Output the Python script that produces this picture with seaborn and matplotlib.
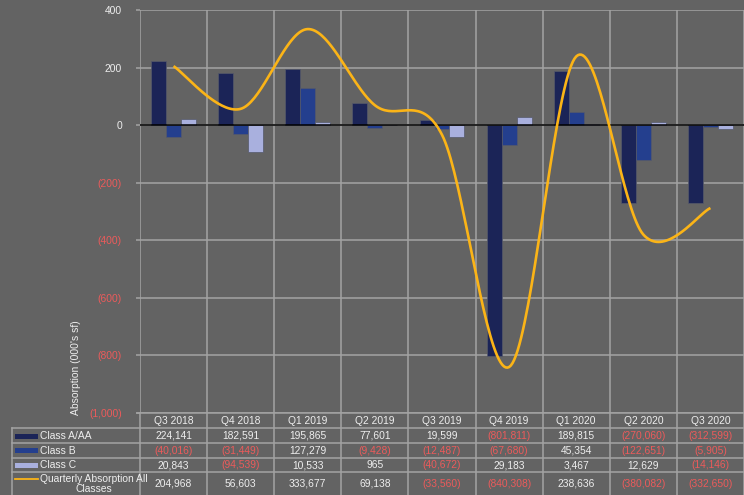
import numpy as np
import pandas as pd
import matplotlib
matplotlib.use("Agg")
import matplotlib.pyplot as plt
import seaborn as sns
from matplotlib.lines import Line2D
from matplotlib.patches import Rectangle

# ---------------- data ----------------
quarters = ["Q3 2018", "Q4 2018", "Q1 2019", "Q2 2019", "Q3 2019",
            "Q4 2019", "Q1 2020", "Q2 2020", "Q3 2020"]
series_names = ["Class A/AA", "Class B", "Class C"]
line_name = "Quarterly Absorption All\nClasses"

# table values (sf)
table_a = [224141, 182591, 195865, 77601, 19599, -801811, 189815, -270060, -312599]
table_b = [-40016, -31449, 127279, -9428, -12487, -67680, 45354, -122651, -5905]
table_c = [20843, -94539, 10533, 965, -40672, 29183, 3467, 12629, -14146]
table_total = [204968, 56603, 333677, 69138, -33560, -840308, 238636, -380082, -332650]

# plotted values (000's sf), as drawn in the chart
plot_a = [224.1, 182.6, 195.9, 77.6, 19.6, -801.8, 189.8, -270.1, -270.0]
plot_b = [-40.0, -31.4, 127.3, -9.4, -12.5, -67.7, 45.4, -122.7, -5.9]
plot_c = [20.8, -94.5, 10.5, 1.0, -40.7, 29.2, 3.5, 12.6, -14.1]
plot_total = [205.0, 56.6, 333.7, 69.1, -33.6, -840.3, 238.6, -380.1, -288.0]

y_ticks = [-1000, -800, -600, -400, -200, 0, 200, 400]

# ---------------- style ----------------
bg = "#636363"
grid_c = "#a3a3a3"
text_c = "#eeeeee"
neg_c = "#ec5b5b"
colors = ["#1b2457", "#243f8e", "#a9b0de"]
line_c = "#fbb417"
fs = 7.4

plt.rcParams["font.family"] = ["Liberation Sans", "DejaVu Sans"]

W, H = 744, 495
fig = plt.figure(figsize=(W / 100, H / 100), dpi=100, facecolor=bg)


def fx(x):
    return x / W


def fy(y):
    return 1 - y / H


ax_l, ax_r, ax_t, ax_b = 140, 744, 10, 413
ax = fig.add_axes([fx(ax_l), fy(ax_b), (ax_r - ax_l) / W, (ax_b - ax_t) / H])
ax.set_facecolor(bg)

df = pd.DataFrame({
    "quarter": quarters * 3,
    "cls": sum([[n] * len(quarters) for n in series_names], []),
    "value": plot_a + plot_b + plot_c,
})
sns.barplot(data=df, x="quarter", y="value", hue="cls", hue_order=series_names,
            order=quarters, palette=colors, width=0.67, saturation=1,
            edgecolor="#55596a", linewidth=0.5, legend=False, ax=ax, zorder=2)

# smoothed total line (Catmull-Rom style Bezier, like spreadsheet smoothing)
px = np.arange(len(quarters), dtype=float)
py = np.array(plot_total, dtype=float)
P = np.column_stack([px, py])
Pext = np.vstack([P[0], P, P[-1]])
curve = []
t = np.linspace(0, 1, 40)[:, None]
for i in range(len(P) - 1):
    p0, p1, p2, p3 = Pext[i], Pext[i + 1], Pext[i + 2], Pext[i + 3]
    b0 = p1
    b1 = p1 + (p2 - p0) / 6
    b2 = p2 - (p3 - p1) / 6
    b3 = p2
    seg = ((1 - t) ** 3) * b0 + 3 * ((1 - t) ** 2) * t * b1 + 3 * (1 - t) * t ** 2 * b2 + t ** 3 * b3
    curve.append(seg if i == 0 else seg[1:])
curve = np.vstack(curve)
ax.plot(curve[:, 0], curve[:, 1], color=line_c, lw=1.9, zorder=4, solid_capstyle="butt")

ax.axhline(0, color="black", lw=1.1, zorder=3)

ax.set_xlim(-0.5, len(quarters) - 0.5)
ax.set_ylim(-1000, 400)
ax.set_xticks([])
ax.set_xticks(np.arange(-0.5, len(quarters), 1.0), minor=True)
ax.tick_params(axis="x", which="both", length=0, labelbottom=False)
ax.grid(axis="x", which="minor", color=grid_c, lw=1.1, zorder=0)


def fmt(v):
    if v < 0:
        return f"({-v:,})"
    return f"{v:,}"


ax.set_yticks(y_ticks)
ax.set_yticklabels([fmt(v) for v in y_ticks])
ax.tick_params(axis="y", length=3, width=1.1, color=grid_c, pad=10, labelsize=fs,
               labelcolor=text_c)
for lab, v in zip(ax.get_yticklabels(), y_ticks):
    lab.set_color(neg_c if v < 0 else text_c)
ax.grid(axis="y", which="major", color=grid_c, lw=1.1, zorder=0)
ax.set_axisbelow(True)
for s in ax.spines.values():
    s.set_visible(False)
ax.set_xlabel("")
ax.set_ylabel("")

fig.text(fx(76), fy(368), "Absorption (000's sf)", rotation=90, ha="center", va="center",
         color=text_c, fontsize=fs)

# ---------------- data table ----------------
cw = (ax_r - ax_l) / len(quarters)
centers = [ax_l + cw * (i + 0.5) for i in range(len(quarters))]
row_lines = [428, 443, 457.5, 472]
row_centers = [436, 450.5, 465, 484]
header_y = 420.5


def hline(y, x0, x1):
    fig.add_artist(Line2D([fx(x0), fx(x1)], [fy(y), fy(y)], transform=fig.transFigure,
                          color=grid_c, lw=1.1))


def vline(x, y0, y1):
    fig.add_artist(Line2D([fx(x), fx(x)], [fy(y0), fy(y1)], transform=fig.transFigure,
                          color=grid_c, lw=1.1))


hline(413, 137, ax_r)
for y in row_lines:
    hline(y, 12, ax_r)
vline(12, 428, 495)
for i in range(len(quarters) + 1):
    vline(ax_l + cw * i, 413, 495)

for q, c in zip(quarters, centers):
    fig.text(fx(c), fy(header_y), q, ha="center", va="center", color=text_c, fontsize=fs)

rows = [table_a, table_b, table_c, table_total]
for vals, yc in zip(rows, row_centers):
    for v, c in zip(vals, centers):
        fig.text(fx(c), fy(yc), fmt(v), ha="center", va="center",
                 color=neg_c if v < 0 else text_c, fontsize=fs)

for name, col, yc in zip(series_names, colors, row_centers[:3]):
    fig.add_artist(Rectangle((fx(15), fy(yc + 2.5)), fx(38) - fx(15), 5 / H,
                             transform=fig.transFigure, facecolor=col, edgecolor="none"))
    fig.text(fx(40), fy(yc), name, ha="left", va="center", color=text_c, fontsize=fs)

fig.add_artist(Line2D([fx(15), fx(38)], [fy(479), fy(479)], transform=fig.transFigure,
                      color=line_c, lw=1.3))
fig.text(fx(94), fy(484), line_name, ha="center", va="center", color=text_c,
         fontsize=fs, linespacing=0.95)

fig.savefig("out.png", dpi=100, facecolor=bg)
